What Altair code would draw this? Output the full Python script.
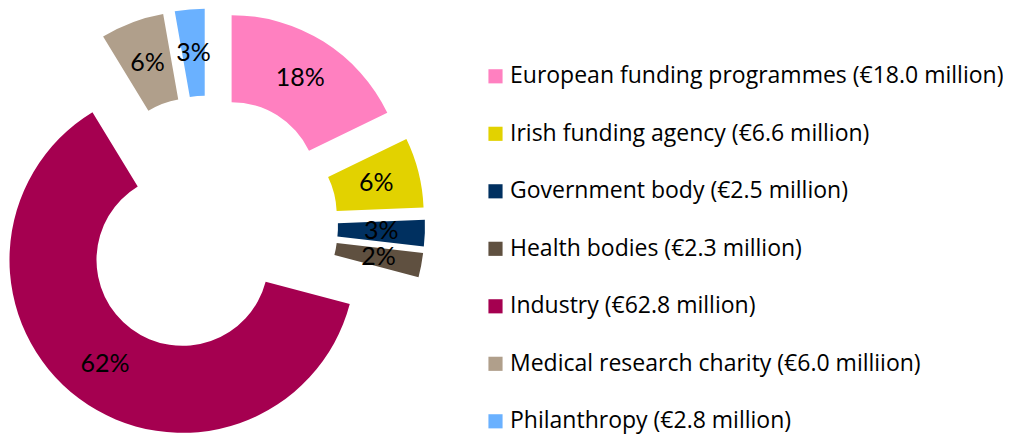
import altair as alt
import pandas as pd

categories = ["European funding programmes", "Irish funding agency", "Government body",
              "Health bodies", "Industry", "Medical research charity", "Philanthropy"]
values = [18.0, 6.6, 2.5, 2.3, 62.8, 6.0, 2.8]
pct_labels = ["18%", "6%", "3%", "2%", "62%", "6%", "3%"]
legend_labels = ["European funding programmes (€18.0 million)",
                 "Irish funding agency (€6.6 million)",
                 "Government body (€2.5 million)",
                 "Health bodies (€2.3 million)",
                 "Industry (€62.8 million)",
                 "Medical research charity (€6.0 milliion)",
                 "Philanthropy (€2.8 million)"]
colors = ["#FF80C0", "#E2D200", "#003060", "#5F5040", "#A50050", "#B09F8B", "#6AB1FF"]

df = pd.DataFrame({
    "order": list(range(len(categories))),
    "category": categories,
    "value": values,
    "pct": pct_labels,
    "legend": legend_labels,
})

CX, CY = 200.5, 217.0
EXPLODE = 43.5
R_IN, R_OUT = 86, 173
R_LAB = (R_IN + R_OUT) / 2
LABEL_FONT = "Lato"
LEGEND_FONT = "Open Sans"

base = (
    alt.Chart(df)
    .transform_window(cum="sum(value)", sort=[alt.SortField("order")], frame=[None, 0])
    .transform_joinaggregate(total="sum(value)")
    .transform_calculate(
        a0="2*PI*(datum.cum - datum.value)/datum.total",
        a1="2*PI*datum.cum/datum.total",
    )
    .transform_calculate(mid="(datum.a0 + datum.a1)/2")
    .transform_calculate(
        cx=f"{CX} + {EXPLODE}*sin(datum.mid)",
        cy=f"{CY} - {EXPLODE}*cos(datum.mid)",
        lx=f"{CX} + {EXPLODE + R_LAB}*sin(datum.mid)",
        ly=f"{CY} - {EXPLODE + R_LAB}*cos(datum.mid)",
    )
)

arcs = base.mark_arc(innerRadius=R_IN, outerRadius=R_OUT).encode(
    x=alt.X("cx:Q", scale=None, axis=None),
    y=alt.Y("cy:Q", scale=None, axis=None),
    theta=alt.Theta("a0:Q", scale=None, stack=None),
    theta2=alt.Theta2("a1:Q"),
    color=alt.Color(
        "legend:N",
        scale=alt.Scale(domain=legend_labels, range=colors),
        sort=legend_labels,
        legend=alt.Legend(
            title=None,
            orient="none",
            legendX=476,
            legendY=56.8,
            symbolType="square",
            symbolSize=200,
            symbolStrokeWidth=0,
            symbolOpacity=1,
            labelFont=LEGEND_FONT,
            labelFontSize=23,
            labelColor="#000000",
            labelOffset=3,
            labelLimit=0,
            rowPadding=33.5,
            padding=0,
        ),
    ),
)

texts = base.mark_text(font=LABEL_FONT, fontSize=25, color="#000000", align="center", baseline="middle").encode(
    x=alt.X("lx:Q", scale=None, axis=None),
    y=alt.Y("ly:Q", scale=None, axis=None),
    text="pct:N",
)

chart = (
    alt.layer(arcs, texts)
    .properties(width=995, height=428, padding=0, autosize=alt.AutoSizeParams(type="none"), background="white")
    .configure_view(stroke=None)
)

chart.save("out.html", embed_options={"renderer": "svg", "actions": False})
